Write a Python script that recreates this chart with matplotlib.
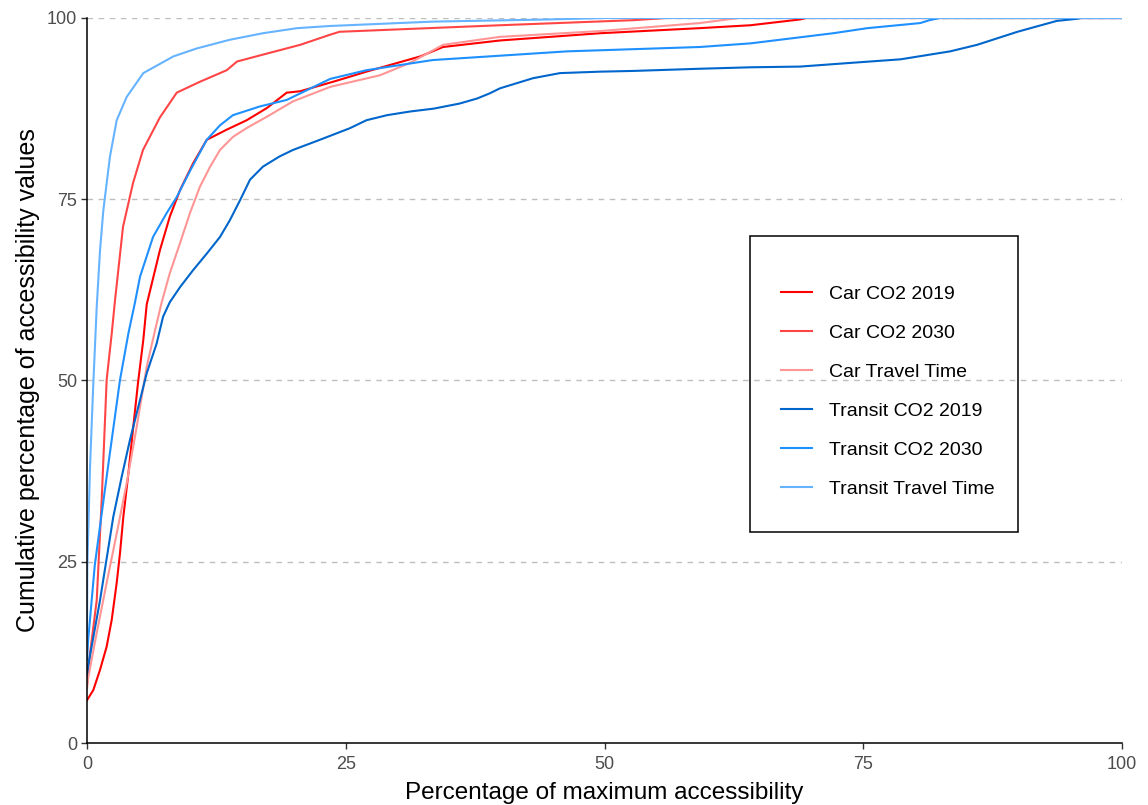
import matplotlib
matplotlib.use("Agg")
import matplotlib.pyplot as plt
from matplotlib.patches import Rectangle

plt.rcParams['font.family'] = ['Liberation Sans', 'DejaVu Sans']

# cumulative curves: x = % of maximum accessibility, y = cumulative % of values
car_co2_2019_x = [0, 0.61, 1.26, 1.9, 2.39, 2.87, 3.19, 3.51, 4.0, 4.47, 4.93, 5.44, 5.77,
                  7.05, 8.0, 9.0, 10.27, 11.57, 13.5, 15.43, 17.4, 19.29, 20.6, 24.0, 27.0,
                  32.2, 34.4, 39.9, 49.6, 59.2, 64.1, 68.9, 69.5, 100]
car_co2_2019_y = [5.9, 7.3, 10.1, 13.3, 17.0, 22.1, 26.2, 31.2, 37.2, 43.6, 49.7, 55.6, 60.5,
                  68.0, 72.6, 76.3, 80.0, 83.2, 84.6, 85.9, 87.6, 89.7, 89.9, 91.3, 92.6,
                  94.7, 96.0, 96.9, 97.9, 98.6, 99.0, 99.8, 100, 100]

car_co2_2030_x = [0, 0.13, 0.94, 1.13, 1.42, 1.9, 2.39, 2.71, 3.48, 4.44, 5.41, 7.05, 8.67,
                  10.9, 13.5, 14.5, 17.4, 20.6, 23.5, 24.4, 39.9, 52.8, 56.0, 100]
car_co2_2030_y = [8.0, 10.5, 19.7, 25.2, 33.5, 50.1, 56.5, 61.1, 71.2, 77.2, 81.8, 86.3, 89.7,
                  91.2, 92.8, 94.0, 95.1, 96.3, 97.7, 98.1, 99.0, 99.7, 100, 100]

car_tt_x = [0, 0.13, 0.94, 1.9, 2.87, 3.83, 4.8, 5.77, 6.57, 7.22, 8.0, 9.0, 9.95, 10.9,
            11.9, 12.85, 14.1, 15.4, 17.4, 19.9, 23.5, 28.3, 31.2, 34.4, 39.9, 49.6, 59.2,
            62.4, 63.0, 100]
car_tt_y = [7.5, 9.1, 15.2, 22.1, 28.9, 35.8, 43.6, 51.9, 56.9, 60.8, 64.8, 69.0, 73.1, 76.7,
            79.5, 81.8, 83.6, 84.8, 86.4, 88.5, 90.5, 92.1, 93.8, 96.3, 97.4, 98.2, 99.3,
            99.9, 100, 100]

transit_co2_2019_x = [0, 0.13, 1.26, 2.54, 3.35, 4.15, 5.12, 5.77, 6.73, 7.35, 8.0, 9.0,
                      10.24, 11.57, 12.85, 13.8, 14.8, 15.75, 17.0, 18.6, 19.9, 22.5, 25.4,
                      27.0, 29.0, 31.2, 33.5, 36.0, 37.7, 38.9, 39.9, 41.5, 43.1, 45.7,
                      49.6, 52.8, 59.2, 64.1, 68.9, 73.7, 78.6, 83.4, 86.0, 89.9, 93.7,
                      95.7, 96.0, 100]
transit_co2_2019_y = [9.5, 10.8, 19.7, 31.2, 36.7, 41.8, 47.3, 51.0, 55.1, 58.8, 60.8, 62.9,
                      65.2, 67.5, 69.8, 72.1, 74.9, 77.7, 79.5, 80.9, 81.8, 83.2, 84.8,
                      85.9, 86.6, 87.1, 87.5, 88.2, 88.9, 89.6, 90.3, 91.0, 91.7, 92.4,
                      92.6, 92.7, 93.0, 93.2, 93.3, 93.8, 94.3, 95.4, 96.3, 98.1, 99.6,
                      99.9, 100, 100]

transit_co2_2030_x = [0, 0.13, 0.75, 2.03, 3.19, 4.0, 4.64, 5.12, 6.38, 7.7, 8.67, 9.95,
                      11.57, 12.85, 14.1, 16.7, 19.3, 21.9, 23.5, 27.0, 33.4, 46.4, 59.2,
                      64.1, 72.1, 75.4, 80.5, 81.4, 82.4, 100]
transit_co2_2030_y = [11.5, 14.5, 24.5, 38.1, 50.1, 56.5, 60.8, 64.3, 69.8, 73.1, 75.3, 78.9,
                      83.2, 85.2, 86.6, 87.8, 88.7, 90.5, 91.6, 92.8, 94.2, 95.4, 96.0,
                      96.5, 97.9, 98.6, 99.3, 99.7, 100, 100]

transit_tt_x = [0, 0.03, 0.29, 0.61, 0.94, 1.26, 1.58, 2.22, 2.87, 3.83, 5.44, 8.34, 10.6,
                13.8, 17.0, 20.3, 23.5, 33.4, 44.7, 50.0, 100]
transit_tt_y = [13.0, 24.3, 38.0, 49.6, 60.2, 68.0, 73.5, 80.9, 85.9, 89.1, 92.4, 94.7, 95.8,
                97.0, 97.9, 98.6, 98.9, 99.5, 99.8, 100, 100]

series_names = ['Car CO2 2019', 'Car CO2 2030', 'Car Travel Time',
                'Transit CO2 2019', 'Transit CO2 2030', 'Transit Travel Time']
series_colors = ['#FF0000', '#FF4545', '#FF9595', '#0066CC', '#1E90FF', '#66B3FF']
series_x = [car_co2_2019_x, car_co2_2030_x, car_tt_x,
            transit_co2_2019_x, transit_co2_2030_x, transit_tt_x]
series_y = [car_co2_2019_y, car_co2_2030_y, car_tt_y,
            transit_co2_2019_y, transit_co2_2030_y, transit_tt_y]

ticks = [0, 25, 50, 75, 100]

fig = plt.figure(figsize=(11.48, 8.05), dpi=100)
ax = fig.add_axes([87 / 1148, 1 - 743 / 805, 1035 / 1148, 725 / 805])

for y in ticks[1:]:
    ax.axhline(y, color='#BEBEBE', lw=1.0, ls=(0, (4, 4)), zorder=0)

for xs, ys, name, col in zip(series_x, series_y, series_names, series_colors):
    ax.plot(xs, ys, color=col, lw=1.5, label=name, solid_joinstyle='round')

ax.set_xlim(0, 100)
ax.set_ylim(0, 100)
ax.set_xticks(ticks)
ax.set_yticks(ticks)
ax.tick_params(colors='#333333', labelcolor='#4D4D4D', labelsize=13, length=4, width=1)
ax.tick_params(axis='x', pad=5)
ax.tick_params(axis='y', pad=3)
ax.spines['top'].set_visible(False)
ax.spines['right'].set_visible(False)
ax.spines['left'].set_linewidth(1.1)
ax.spines['bottom'].set_linewidth(1.1)
ax.set_xlabel('Percentage of maximum accessibility', fontsize=17.5, labelpad=7)
ax.set_ylabel('Cumulative percentage of accessibility values', fontsize=18, labelpad=5)

# legend box drawn separately so its size can be set freely
ax.add_patch(Rectangle((0.6406, 0.291), 0.2589, 0.4083, transform=ax.transAxes,
                       fill=False, edgecolor='black', lw=1.1, clip_on=False, zorder=5))
ax.legend(loc='upper left', bbox_to_anchor=(0.6705, 0.631), frameon=False,
          borderpad=0, borderaxespad=0, fontsize=14, labelspacing=1.1,
          handlelength=1.6, handletextpad=0.85)

fig.savefig('out.png', dpi=100)
